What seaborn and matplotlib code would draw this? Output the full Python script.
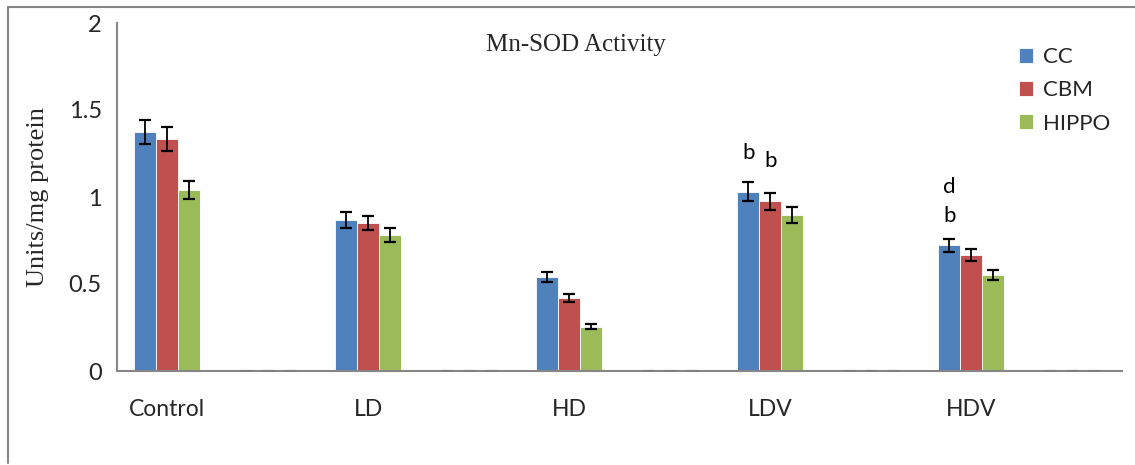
import numpy as np
import pandas as pd
import matplotlib
matplotlib.use("Agg")
import matplotlib.pyplot as plt
import seaborn as sns
from matplotlib.lines import Line2D

# ---- data ----
groups = ["Control", "gap1", "LD", "gap2", "HD", "gap3", "LDV", "gap4", "HDV", "gap5"]
tick_labels = ["Control", "", "LD", "", "HD", "", "LDV", "", "HDV", ""]
tissues = ["CC", "CBM", "HIPPO"]
cc_vals = [1.375, 0.0, 0.868, 0.0, 0.542, 0.0, 1.031, 0.0, 0.722, 0.0]
cbm_vals = [1.333, 0.0, 0.850, 0.0, 0.418, 0.0, 0.975, 0.0, 0.665, 0.0]
hippo_vals = [1.040, 0.0, 0.780, 0.0, 0.255, 0.0, 0.895, 0.0, 0.550, 0.0]
cc_err = [0.069, 0.0, 0.045, 0.0, 0.029, 0.0, 0.053, 0.0, 0.036, 0.0]
cbm_err = [0.069, 0.0, 0.040, 0.0, 0.022, 0.0, 0.050, 0.0, 0.035, 0.0]
hippo_err = [0.052, 0.0, 0.040, 0.0, 0.014, 0.0, 0.045, 0.0, 0.029, 0.0]
colors = ["#4F81BD", "#C0504D", "#9BBB59"]
# significance letters
annot_groups = ["LDV", "LDV", "HDV", "HDV"]
annot_tissues = ["CC", "CBM", "CC", "CC"]
annot_texts = ["b", "b", "b", "d"]
annot_values = [1.255, 1.205, 0.89, 1.06]

values = {"CC": cc_vals, "CBM": cbm_vals, "HIPPO": hippo_vals}
errors = {"CC": cc_err, "CBM": cbm_err, "HIPPO": hippo_err}
rows = []
for t in tissues:
    for g, v, e in zip(groups, values[t], errors[t]):
        rows.append({"group": g, "tissue": t, "value": v, "err": e})
df = pd.DataFrame(rows)

sns.set_style("white")
tick_font = "Lato"
serif_font = "Liberation Serif"

fig = plt.figure(figsize=(11.35, 4.65), dpi=100)
ax = fig.add_axes([117 / 1135, 1 - 371 / 465, (1122 - 117) / 1135, (371 - 23) / 465])

sns.barplot(data=df, x="group", y="value", hue="tissue", order=groups,
            hue_order=tissues, palette=colors, errorbar=None, width=0.66,
            edgecolor="white", linewidth=0.6, saturation=1, ax=ax, legend=True)

# error bars
centers = {}
for t, cont in zip(tissues, ax.containers):
    for g, p, v, e in zip(groups, cont.patches, values[t], errors[t]):
        cx = p.get_x() + p.get_width() / 2
        centers[(g, t)] = cx
        col = "black" if v > 0 else "#7f7f7f"
        ax.errorbar(cx, v, yerr=e, fmt="none", ecolor=col, elinewidth=1.3,
                    capsize=4.0, capthick=1.6 if v > 0 else 2.2, zorder=5)

for g, t, s, y in zip(annot_groups, annot_tissues, annot_texts, annot_values):
    ax.text(centers[(g, t)], y, s, ha="center", va="center",
            fontsize=16, family=tick_font, color="black")

ax.set_xlim(-0.5, 9.5)
ax.set_ylim(0, 2)
ax.set_yticks([0, 0.5, 1, 1.5, 2])
ax.set_yticklabels(["0", "0.5", "1", "1.5", "2"], fontsize=17, family=tick_font)
ax.set_xticks(range(len(groups)))
ax.set_xticklabels(tick_labels, fontsize=16.5, family=tick_font)
ax.tick_params(axis="x", length=0, pad=20)
ax.tick_params(axis="y", length=6, width=1.2, color="#868686", pad=5, direction="out")
for side in ["top", "right"]:
    ax.spines[side].set_visible(False)
for side in ["left", "bottom"]:
    ax.spines[side].set_color("#868686")
    ax.spines[side].set_linewidth(1.5)
ax.set_xlabel("")
ax.set_ylabel("Units/mg protein", family=serif_font, fontsize=19, labelpad=14)

fig.text(576 / 1135, 1 - 45 / 465, "Mn-SOD Activity", family=serif_font,
         fontsize=18, ha="center", va="center")

handles, labels = ax.get_legend_handles_labels()
ax.legend(handles, labels, loc="upper left", bbox_to_anchor=(999 / 1135, 1 - 27 / 465),
          bbox_transform=fig.transFigure, frameon=False,
          prop={"family": tick_font, "size": 16}, handlelength=0.65, handleheight=0.65,
          handletextpad=0.45, labelspacing=0.6)

# outer chart frame (top & left edges visible)
fig.add_artist(Line2D([8 / 1135, 1], [1 - 7 / 465, 1 - 7 / 465], transform=fig.transFigure,
                      color="#868686", lw=1.5))
fig.add_artist(Line2D([8 / 1135, 8 / 1135], [1 - 7 / 465, 1 - 463 / 465], transform=fig.transFigure,
                      color="#868686", lw=1.5))

fig.savefig("out.png", dpi=100)
